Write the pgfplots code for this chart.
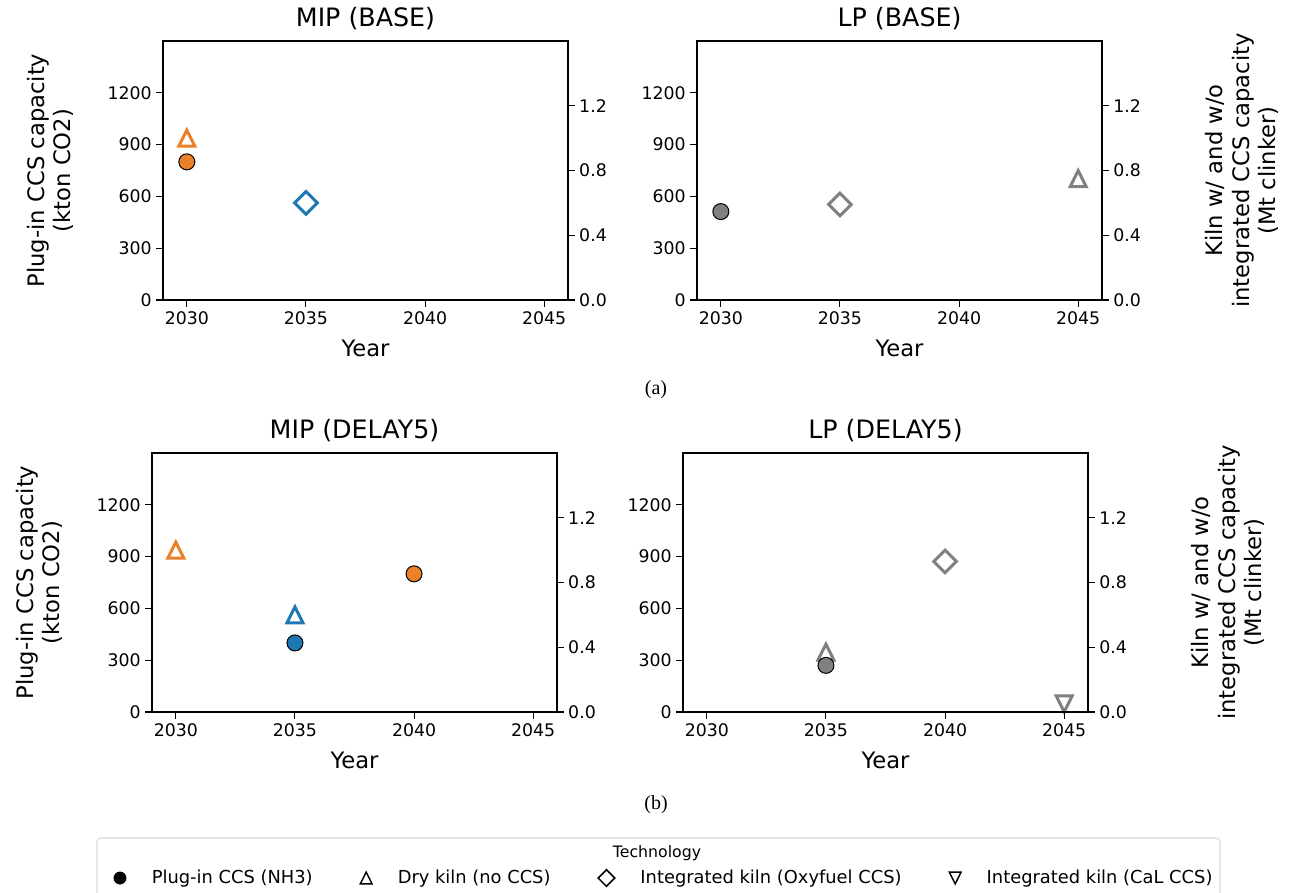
\documentclass[border=0pt]{standalone}
\usepackage{pgfplots}
\pgfplotsset{compat=1.18}
\usepackage{fontspec}
\setmainfont{DejaVu Sans}
\newfontfamily\serif{Liberation Serif}

\definecolor{orng}{RGB}{234,128,40}
\definecolor{tblue}{RGB}{31,119,180}
\definecolor{mgray}{RGB}{128,128,128}

\pgfdeclareplotmark{mtri}{%
 \pgfpathmoveto{\pgfqpoint{0pt}{\pgfplotmarksize}}%
 \pgfpathlineto{\pgfqpoint{-\pgfplotmarksize}{-\pgfplotmarksize}}%
 \pgfpathlineto{\pgfqpoint{\pgfplotmarksize}{-\pgfplotmarksize}}%
 \pgfpathclose\pgfusepathqstroke}
\pgfdeclareplotmark{mtriv}{%
 \pgfpathmoveto{\pgfqpoint{0pt}{-\pgfplotmarksize}}%
 \pgfpathlineto{\pgfqpoint{-\pgfplotmarksize}{\pgfplotmarksize}}%
 \pgfpathlineto{\pgfqpoint{\pgfplotmarksize}{\pgfplotmarksize}}%
 \pgfpathclose\pgfusepathqstroke}
\pgfdeclareplotmark{mdiam}{%
 \pgfpathmoveto{\pgfqpoint{0pt}{\pgfplotmarksize}}%
 \pgfpathlineto{\pgfqpoint{\pgfplotmarksize}{0pt}}%
 \pgfpathlineto{\pgfqpoint{0pt}{-\pgfplotmarksize}}%
 \pgfpathlineto{\pgfqpoint{-\pgfplotmarksize}{0pt}}%
 \pgfpathclose\pgfusepathqstroke}

\pgfplotsset{
  base/.style={scale only axis, width=303.75pt, height=194.25pt,
    xmin=2029, xmax=2046, anchor=south west, clip=false,
    axis line style={line width=1pt}, tick align=outside,
    major tick length=4.9pt,
    every tick/.style={black, line width=0.8pt},
    tick label style={font=\fontsize{13}{15}\selectfont},
    /pgf/number format/assume math mode=true,
    /pgf/number format/1000 sep={}},
  leftax/.style={base, ymin=0, ymax=1500, ytick={0,300,600,900,1200},
    xtick={2030,2035,2040,2045}, xtick pos=bottom, ytick pos=left,
    xlabel={Year},
    every axis x label/.style={at={(axis description cs:0.5,-0.185)}, anchor=center, font=\fontsize{17}{20}\selectfont},
    every axis title/.style={at={(axis description cs:0.5,1.085)}, anchor=center, font=\fontsize{19}{22}\selectfont}},
  rightax/.style={base, hide x axis, axis y line*=right, ymin=0, ymax=1.6,
    ytick={0,0.4,0.8,1.2},
    yticklabel style={/pgf/number format/.cd, fixed, fixed zerofill, precision=1}},
  lyl/.style={ylabel={Plug-in CCS capacity\\(kton CO2)},
    every axis y label/.style={at={(axis description cs:-0.279,0.5)}, anchor=center, rotate=90, align=center, font=\fontsize{17}{19.5}\selectfont}},
  ryl/.style={ylabel={Kiln w/ and w/o\\integrated CCS capacity\\(Mt clinker)},
    every axis y label/.style={at={(axis description cs:1.3457,0.5)}, anchor=center, rotate=90, align=center, font=\fontsize{17}{20}\selectfont}},
  pin/.style={only marks, mark=*, mark size=6pt, mark options={draw=black, line width=0.75pt, fill=#1}},
  dry/.style={only marks, mark=mtri, mark size=6pt, mark options={draw=#1, line width=2.25pt, line join=miter}},
  oxy/.style={only marks, mark=mdiam, mark size=8.5pt, mark options={draw=#1, line width=2.25pt, line join=miter}},
  cal/.style={only marks, mark=mtriv, mark size=6pt, mark options={draw=#1, line width=2.25pt, line join=miter}},
}

\begin{document}
\begin{tikzpicture}[x=1pt,y=1pt]
\useasboundingbox (0pt,0pt) rectangle (968.25pt,669pt);

% ---------- (a) MIP (BASE)
\begin{axis}[rightax, at={(122.25pt,444pt)}]
\addplot[dry=orng] coordinates {(2030,1.0)};
\addplot[oxy=tblue] coordinates {(2035,0.6)};
\end{axis}
\begin{axis}[leftax, lyl, at={(122.25pt,444pt)}, title={MIP (BASE)}]
\addplot[pin=orng] coordinates {(2030,800)};
\end{axis}

% ---------- (a) LP (BASE)
\begin{axis}[rightax, ryl, at={(522.75pt,444pt)}]
\addplot[oxy=mgray] coordinates {(2035,0.59)};
\addplot[dry=mgray] coordinates {(2045,0.75)};
\end{axis}
\begin{axis}[leftax, at={(522.75pt,444pt)}, title={LP (BASE)}]
\addplot[pin=mgray] coordinates {(2030,512)};
\end{axis}

% ---------- (b) MIP (DELAY5)
\begin{axis}[rightax, at={(114pt,135pt)}]
\addplot[dry=orng] coordinates {(2030,1.0)};
\addplot[dry=tblue] coordinates {(2035,0.6)};
\end{axis}
\begin{axis}[leftax, lyl, at={(114pt,135pt)}, title={MIP (DELAY5)},
  legend style={at={(axis description cs:-0.1047,-0.641)}, anchor=west,
    draw=none, fill=none, legend columns=4,
    font=\fontsize{13.4}{16}\selectfont,
    /tikz/every odd column/.append style={column sep=17.25pt},
    /tikz/every even column/.append style={column sep=33.75pt}}]
\addplot[pin=tblue, forget plot] coordinates {(2035,400)};
\addplot[pin=orng, forget plot] coordinates {(2040,800)};
\addlegendimage{only marks, mark=*, mark size=4.6pt, mark options={fill=black, draw=black}}
\addlegendentry{Plug-in CCS (NH3)}
\addlegendimage{only marks, mark=mtri, mark size=4.4pt, mark options={draw=black, line width=1.1pt, line join=miter}}
\addlegendentry{Dry kiln (no CCS)}
\addlegendimage{only marks, mark=mdiam, mark size=6.2pt, mark options={draw=black, line width=1.1pt, line join=miter}}
\addlegendentry{Integrated kiln (Oxyfuel CCS)}
\addlegendimage{only marks, mark=mtriv, mark size=4.4pt, mark options={draw=black, line width=1.1pt, line join=miter}}
\addlegendentry{Integrated kiln (CaL CCS)}
\end{axis}

% ---------- (b) LP (DELAY5)
\begin{axis}[rightax, ryl, at={(512.25pt,135pt)}]
\addplot[dry=mgray] coordinates {(2035,0.37)};
\addplot[oxy=mgray] coordinates {(2040,0.93)};
\addplot[cal=mgray] coordinates {(2045,0.05)};
\end{axis}
\begin{axis}[leftax, at={(512.25pt,135pt)}, title={LP (DELAY5)}]
\addplot[pin=mgray] coordinates {(2035,270)};
\end{axis}

% captions
\node[font=\serif\fontsize{15}{17}\selectfont] at (492pt,376.5pt) {(a)};
\node[font=\serif\fontsize{15}{17}\selectfont] at (492pt,65.25pt) {(b)};

% legend frame and title
\draw[draw=black!15, line width=0.8pt, rounded corners=3pt] (72.75pt,40.5pt) rectangle (915pt,-20pt);
\node[font=\fontsize{11.8}{14}\selectfont] at (492.75pt,29.25pt) {Technology};
\end{tikzpicture}
\end{document}
